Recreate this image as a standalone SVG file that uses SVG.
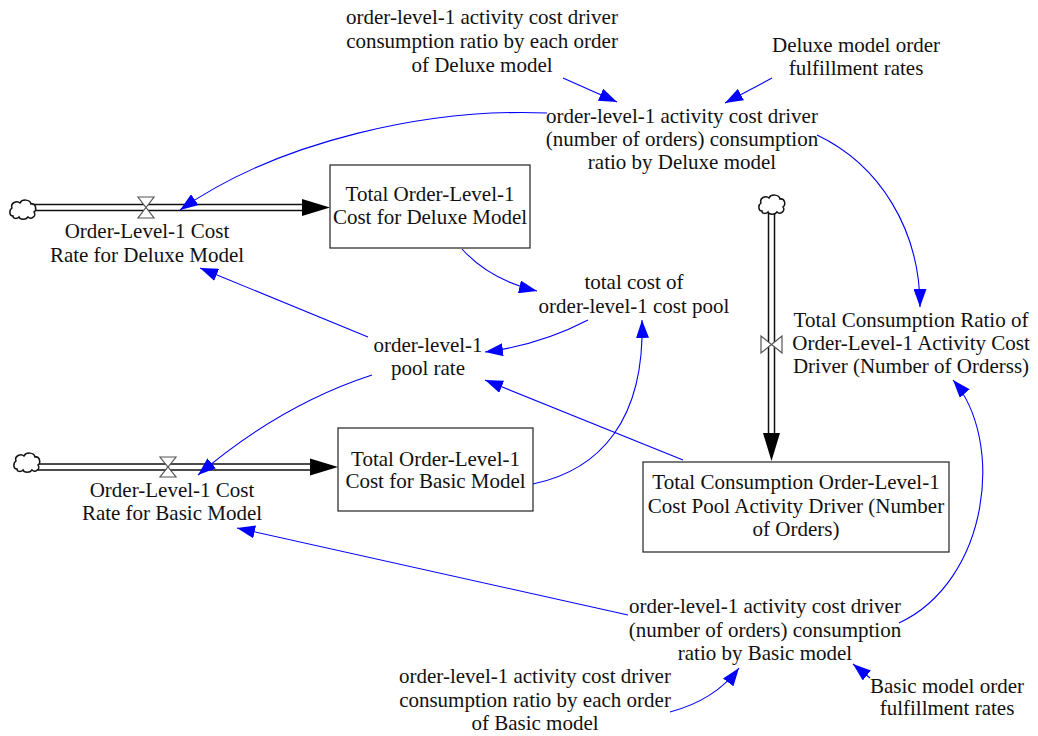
<svg xmlns="http://www.w3.org/2000/svg" width="1038" height="736" viewBox="0 0 1038 736">
<style>
text{font-family:"Liberation Serif","Times New Roman",serif;font-size:21px;fill:#111;text-anchor:middle}
.box{fill:#fff;stroke:#222;stroke-width:1.2}
.link{fill:none;stroke:#0000ff;stroke-width:1.1;marker-end:url(#ab)}
.pipeo{stroke:#111;stroke-width:7.5;fill:none}
.pipei{stroke:#fff;stroke-width:4.5;fill:none}
.cloud{fill:#fff;stroke:#111;stroke-width:1.5}
.valve{fill:#fff;stroke:#555;stroke-width:1.2}
</style>
<defs>
<marker id="ab" markerUnits="userSpaceOnUse" markerWidth="19" markerHeight="13" refX="18" refY="6.5" orient="auto"><path d="M0,0 L18,6.5 L0,13 z" fill="#0000ff"/></marker>
<path id="cloud" d="M-10,6 C-14,6 -14,0 -11,-2 C-13,-7 -6,-10 -3,-7 C-1,-11 7,-11 8,-6 C13,-7 14,0 11,2 C14,6 8,10 5,7 C3,10 -3,10 -4,7 C-6,9 -10,9 -10,6 Z"/>
</defs>
<rect width="1038" height="736" fill="#fff"/>

<g id="flows">
  <!-- top flow -->
  <line class="pipeo" x1="34" y1="207.5" x2="303" y2="207.5"/>
  <line class="pipei" x1="34" y1="207.5" x2="304" y2="207.5"/>
  <path d="M302,199 L330,207.5 L302,216 z" fill="#000"/>
  <use href="#cloud" class="cloud" x="23" y="210"/>
  <path class="valve" d="M138,197 L154,197 L146,207.5 z M138,218 L154,218 L146,207.5 z"/>
  <!-- bottom flow -->
  <line class="pipeo" x1="38" y1="467" x2="311" y2="467"/>
  <line class="pipei" x1="38" y1="467" x2="312" y2="467"/>
  <path d="M310,458.5 L338,467 L310,475.5 z" fill="#000"/>
  <use href="#cloud" class="cloud" x="27" y="463"/>
  <path class="valve" d="M160,457 L176,457 L168,467 z M160,477 L176,477 L168,467 z"/>
  <!-- vertical flow -->
  <line class="pipeo" x1="771.5" y1="212" x2="771.5" y2="434"/>
  <line class="pipei" x1="771.5" y1="212" x2="771.5" y2="435"/>
  <path d="M763,433 L771.5,461 L780,433 z" fill="#000"/>
  <use href="#cloud" class="cloud" x="772" y="205"/>
  <path class="valve" d="M761,336 L761,353 L771.5,344.5 z M782,336 L782,353 L771.5,344.5 z"/>
</g>

<g id="connectors">
  <path class="link" d="M563,78 L617,102"/>
  <path class="link" d="M772,78 L725,103"/>
  <path class="link" d="M547,113 C430,108 280,140 180,210"/>
  <path class="link" d="M817,135 C880,165 920,230 920,307"/>
  <path class="link" d="M462,249 Q490,280 537,291"/>
  <path class="link" d="M588,320 Q540,345 485,352"/>
  <path class="link" d="M368,337 L200,268"/>
  <path class="link" d="M372,375 Q280,405 198,475"/>
  <path class="link" d="M683,460 L485,380"/>
  <path class="link" d="M533,484 C600,470 645,420 642,320"/>
  <path class="link" d="M628,615 L237,528"/>
  <path class="link" d="M899,623 C990,580 1005,440 953,380"/>
  <path class="link" d="M670,712 Q715,700 739,668"/>
  <path class="link" d="M870,678 L853,664"/>
</g>

<g id="n_ratio_each_deluxe"><text x="482" y="24">order-level-1 activity cost driver<tspan x="482" y="48">consumption ratio by each order</tspan><tspan x="482" y="72">of Deluxe model</tspan></text></g>
<g id="n_deluxe_fulfill"><text x="856" y="52">Deluxe model order<tspan x="856" y="75">fulfillment rates</tspan></text></g>
<g id="n_ratio_deluxe"><text x="682" y="123">order-level-1 activity cost driver<tspan x="682" y="146">(number of orders) consumption</tspan><tspan x="682" y="169">ratio by Deluxe model</tspan></text></g>
<g id="n_rate_deluxe"><text x="147" y="238">Order-Level-1 Cost<tspan x="147" y="262">Rate for Deluxe Model</tspan></text></g>
<g id="n_total_deluxe"><rect class="box" x="330" y="165" width="200" height="83"/><text x="430" y="201">Total Order-Level-1<tspan x="430" y="224">Cost for Deluxe Model</tspan></text></g>
<g id="n_total_pool"><text x="634" y="289">total cost of<tspan x="634" y="313">order-level-1 cost pool</tspan></text></g>
<g id="n_pool_rate"><text x="428" y="352">order-level-1<tspan x="428" y="375">pool rate</tspan></text></g>
<g id="n_total_ratio"><text x="911" y="327">Total Consumption Ratio of<tspan x="911" y="350">Order-Level-1 Activity Cost</tspan><tspan x="911" y="373">Driver (Number of Orderss)</tspan></text></g>
<g id="n_total_basic"><rect class="box" x="338" y="428" width="195" height="83"/><text x="435.5" y="466">Total Order-Level-1<tspan x="435.5" y="488">Cost for Basic Model</tspan></text></g>
<g id="n_rate_basic"><text x="172" y="497">Order-Level-1 Cost<tspan x="172" y="520">Rate for Basic Model</tspan></text></g>
<g id="n_total_driver"><rect class="box" x="643" y="462" width="306" height="90"/><text x="796" y="489">Total Consumption Order-Level-1<tspan x="796" y="513">Cost Pool Activity Driver (Number</tspan><tspan x="796" y="536">of Orders)</tspan></text></g>
<g id="n_ratio_basic"><text x="765" y="613">order-level-1 activity cost driver<tspan x="765" y="637">(number of orders) consumption</tspan><tspan x="765" y="660">ratio by Basic model</tspan></text></g>
<g id="n_ratio_each_basic"><text x="535" y="683">order-level-1 activity cost driver<tspan x="535" y="707">consumption ratio by each order</tspan><tspan x="535" y="730">of Basic model</tspan></text></g>
<g id="n_basic_fulfill"><text x="947" y="693">Basic model order<tspan x="947" y="715">fulfillment rates</tspan></text></g>
</svg>
